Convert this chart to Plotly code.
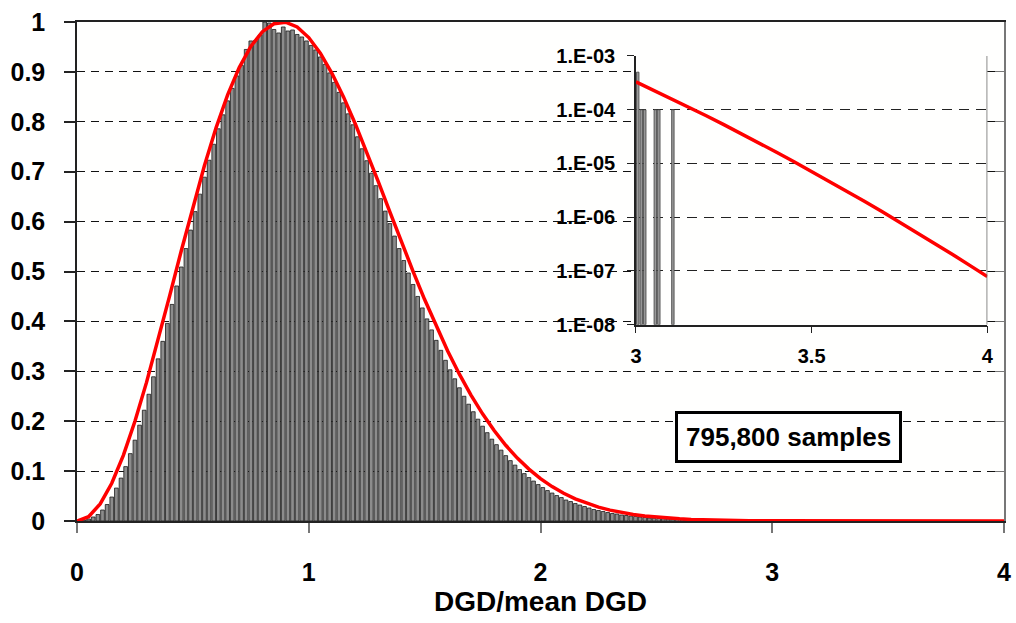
import numpy as np
import plotly.graph_objects as go

# ---------------- data ----------------
bin_width = 0.02
bar_values = [
    0.001, 0.002, 0.004, 0.008, 0.013, 0.022, 0.033, 0.048, 0.066, 0.086,
    0.109, 0.135, 0.162, 0.192, 0.222, 0.254, 0.289, 0.325, 0.360, 0.396,
    0.434, 0.471, 0.509, 0.546, 0.583, 0.620, 0.655, 0.689, 0.723, 0.755,
    0.786, 0.814, 0.842, 0.867, 0.892, 0.913, 0.945, 0.962, 0.963, 0.974,
    1.000, 0.998, 0.985, 0.978, 0.990, 0.982, 0.984, 0.975, 0.970, 0.962,
    0.953, 0.944, 0.930, 0.915, 0.898, 0.879, 0.859, 0.838, 0.816, 0.794,
    0.770, 0.746, 0.722, 0.697, 0.672, 0.646, 0.621, 0.596, 0.571, 0.546,
    0.522, 0.497, 0.474, 0.450, 0.427, 0.405, 0.383, 0.362, 0.342, 0.322,
    0.303, 0.285, 0.267, 0.250, 0.234, 0.219, 0.204, 0.190, 0.177, 0.164,
    0.153, 0.142, 0.131, 0.121, 0.112, 0.103, 0.095, 0.087, 0.080, 0.073,
    0.067, 0.061, 0.056, 0.051, 0.047, 0.042, 0.039, 0.035, 0.032, 0.029,
    0.026, 0.023, 0.021, 0.019, 0.017, 0.015, 0.014, 0.012, 0.011, 0.010,
    0.009, 0.008, 0.007, 0.006, 0.0055, 0.005, 0.0045, 0.004, 0.0035, 0.003,
    0.0025, 0.002, 0.002,
]
bar_centers = [round(bin_width / 2 + i * bin_width, 3) for i in range(len(bar_values))]

curve_x = [0.00, 0.05, 0.10, 0.15, 0.20, 0.25, 0.30, 0.35, 0.40, 0.45,
           0.50, 0.55, 0.60, 0.65, 0.70, 0.75, 0.80, 0.85, 0.90, 0.95,
           1.00, 1.05, 1.10, 1.15, 1.20, 1.25, 1.30, 1.35, 1.40, 1.45,
           1.50, 1.55, 1.60, 1.65, 1.70, 1.75, 1.80, 1.85, 1.90, 1.95,
           2.00, 2.05, 2.10, 2.15, 2.20, 2.25, 2.30, 2.35, 2.40, 2.45,
           2.50, 2.55, 2.60, 2.65, 2.70, 2.80, 2.90, 3.00, 3.20, 3.50, 4.00]
curve_y = [0.0, 0.0086, 0.0342, 0.0757, 0.1316, 0.1998, 0.2778, 0.3627, 0.4517, 0.5416,
           0.6294, 0.7123, 0.7879, 0.8539, 0.9087, 0.9512, 0.9806, 0.9966, 0.9995, 0.9900,
           0.9688, 0.9375, 0.8972, 0.8499, 0.7967, 0.7396, 0.6802, 0.6196, 0.5593, 0.5004,
           0.4437, 0.3903, 0.3402, 0.2942, 0.2524, 0.2147, 0.1812, 0.1518, 0.1260, 0.1040,
           0.0850, 0.0689, 0.0556, 0.0445, 0.0353, 0.0279, 0.0218, 0.0169, 0.0130, 0.0100,
           0.0076, 0.0057, 0.0043, 0.0032, 0.0024, 0.0013, 0.00065, 0.00033, 0.00008, 0.000007, 0.0000001]

inset_curve_x = [3.00, 3.05, 3.10, 3.15, 3.20, 3.25, 3.30, 3.35, 3.40, 3.45, 3.50,
                 3.55, 3.60, 3.65, 3.70, 3.75, 3.80, 3.85, 3.90, 3.95, 4.00]
inset_curve_y = [3.29e-4, 2.31e-4, 1.62e-4, 1.12e-4, 7.71e-5, 5.28e-5, 3.59e-5, 2.42e-5,
                 1.62e-5, 1.08e-5, 7.14e-6, 4.69e-6, 3.06e-6, 1.98e-6, 1.28e-6, 8.15e-7,
                 5.18e-7, 3.27e-7, 2.05e-7, 1.27e-7, 7.87e-8]
inset_bar_x = [3.005, 3.015, 3.025, 3.055, 3.065, 3.105]
inset_bar_y = [5e-4, 1e-4, 1e-4, 1e-4, 1e-4, 1e-4]

main_ticks_y = [round(0.1 * i, 1) for i in range(11)]
main_ticktext_y = ["0", "0.1", "0.2", "0.3", "0.4", "0.5", "0.6", "0.7", "0.8", "0.9", "1"]
main_ticks_x = [0, 1, 2, 3, 4]
inset_ticks_y = [1e-8, 1e-7, 1e-6, 1e-5, 1e-4, 1e-3]
inset_ticktext_y = ["1.E-08", "1.E-07", "1.E-06", "1.E-05", "1.E-04", "1.E-03"]
inset_ticks_x = [3, 3.5, 4]
inset_ticktext_x = ["3", "3.5", "4"]
annotation_text = "795,800 samples"

FONT = "Arial, 'Liberation Sans', sans-serif"

fig = go.Figure()

fig.add_trace(go.Bar(
    x=bar_centers, y=bar_values, width=bin_width * 0.8,
    marker=dict(color="#8c8c8c", line=dict(color="#1a1a1a", width=0.8)),
    xaxis="x", yaxis="y", showlegend=False, hoverinfo="skip",
))
fig.add_trace(go.Scatter(
    x=curve_x, y=curve_y, mode="lines", line=dict(color="#ff0000", width=3.5),
    xaxis="x", yaxis="y3", showlegend=False, hoverinfo="skip",
))
fig.add_trace(go.Bar(
    x=inset_bar_x, y=inset_bar_y, base=[1e-8] * len(inset_bar_y), width=0.007,
    marker=dict(color="#9a9a9a", line=dict(color="#404040", width=0.8)),
    xaxis="x2", yaxis="y2", showlegend=False, hoverinfo="skip",
))
fig.add_trace(go.Scatter(
    x=inset_curve_x, y=inset_curve_y, mode="lines", line=dict(color="#ff0000", width=3.5),
    xaxis="x2", yaxis="y2", showlegend=False, hoverinfo="skip",
))

tickfont_main = dict(family=FONT, size=25, color="black", weight="bold")
tickfont_inset = dict(family=FONT, size=20, color="black", weight="bold")

fig.update_layout(
    width=1016, height=623,
    margin=dict(l=77, r=12, t=22, b=102, pad=0, autoexpand=False),
    paper_bgcolor="white", plot_bgcolor="#fffffe",
    barmode="overlay",
    xaxis=dict(
        domain=[0, 1], range=[0, 4], tickvals=main_ticks_x, automargin=False,
        ticks="outside", ticklen=10, tickcolor="#777", tickwidth=1.5,
        showline=True, linecolor="#222", linewidth=1.5, mirror=True,
        showgrid=False, zeroline=False, tickfont=tickfont_main,
        ticklabelstandoff=18,
        title=dict(text="DGD/mean DGD", font=dict(family=FONT, size=28, color="black", weight="bold"),
                   standoff=2),
    ),
    yaxis=dict(
        domain=[0, 1], range=[0, 1], tickvals=main_ticks_y, ticktext=main_ticktext_y,
        automargin=False,
        ticks="outside", ticklen=11, tickcolor="#222", tickwidth=1.5,
        showline=True, linecolor="#222", linewidth=1.5,
        showgrid=True, gridcolor="#111", gridwidth=1, griddash="8px,6px",
        zeroline=False, tickfont=tickfont_main, ticklabelstandoff=14,
    ),
    yaxis3=dict(
        overlaying="y", side="right", anchor="x", range=[0, 1], tickvals=main_ticks_y,
        automargin=False,
        ticks="inside", ticklen=9, tickcolor="#777", showticklabels=False,
        showline=True, linecolor="#777", linewidth=1.5, showgrid=False, zeroline=False,
    ),
    xaxis2=dict(
        domain=[0.603, 0.982], anchor="y2", range=[3, 4], automargin=False,
        tickvals=inset_ticks_x, ticktext=inset_ticktext_x,
        ticks="outside", ticklen=7, tickcolor="#222",
        showline=True, linecolor="#222", linewidth=1.5,
        showgrid=False, zeroline=False, tickfont=tickfont_inset, ticklabelstandoff=6,
    ),
    yaxis2=dict(
        domain=[0.3934, 0.9319], anchor="x2", type="log", range=[-8, -3], automargin=False,
        tickvals=inset_ticks_y, ticktext=inset_ticktext_y,
        ticks="outside", ticklen=7, tickcolor="#222",
        showline=True, linecolor="#222", linewidth=1.5, mirror=False,
        showgrid=True, gridcolor="#222", gridwidth=1, griddash="10px,7px",
        zeroline=False, tickfont=tickfont_inset, ticklabelstandoff=8,
    ),
    annotations=[dict(
        x=3.072, y=0.169, xref="x", yref="y", text=annotation_text, showarrow=False,
        font=dict(family=FONT, size=26, color="black", weight="bold"),
        bgcolor="white", bordercolor="black", borderwidth=3, borderpad=8,
    )],
    shapes=[dict(
        type="line", xref="x2", yref="y2", x0=4, x1=4, y0=1e-8, y1=1e-3,
        line=dict(color="#666", width=1.5),
    )],
)

fig.write_html("out.html")
